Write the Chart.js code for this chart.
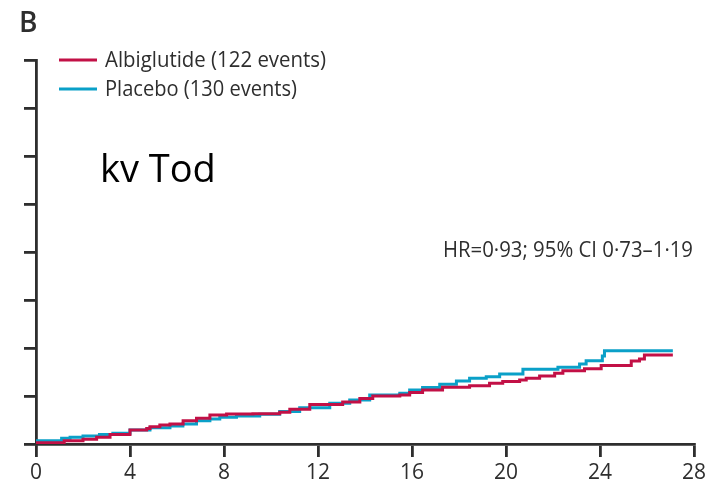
<!DOCTYPE html>
<html>
<head>
<meta charset="utf-8">
<script src="https://cdn.jsdelivr.net/npm/chart.js@4.4.1/dist/chart.umd.min.js"></script>
<style>
  html, body { margin: 0; padding: 0; background: #fff; }
  #wrap { width: 710px; height: 481px; }
</style>
</head>
<body>
<div id="wrap"><canvas id="km"></canvas></div>
<script>
// cumulative incidence (%) over months since randomisation
const albiMonths = [0, 1.2, 2.0, 2.58, 3.15, 4.0, 4.71, 4.85, 5.27, 5.7, 6.26, 6.83, 7.4, 8.11, 9.23, 10.37, 10.8, 11.65, 13.05, 13.78, 14.33, 15.48, 15.9, 16.45, 17.3, 18.45, 19.3, 19.86, 20.58, 20.86, 21.43, 22.07, 22.42, 23.34, 24.05, 25.33, 25.68, 25.89, 26.6, 27.1];
const albiRisk   = [0, 0.05, 0.14, 0.2, 0.28, 0.4, 0.58, 0.65, 0.72, 0.79, 0.83, 0.97, 1.07, 1.21, 1.25, 1.26, 1.32, 1.45, 1.65, 1.75, 1.9, 2.0, 2.04, 2.15, 2.25, 2.36, 2.43, 2.53, 2.6, 2.67, 2.74, 2.83, 2.95, 3.05, 3.14, 3.27, 3.46, 3.54, 3.71, 3.71];

const placMonths = [0, 1.09, 1.45, 2.0, 2.7, 3.27, 4.0, 4.85, 5.7, 6.25, 6.83, 7.4, 7.82, 8.53, 9.52, 10.37, 11.22, 12.5, 13.35, 14.2, 15.48, 15.9, 16.45, 17.18, 17.89, 18.45, 19.16, 19.73, 20.72, 22.21, 23.13, 23.41, 24.1, 24.19, 24.97, 27.1];
const placRisk   = [0, 0.14, 0.24, 0.28, 0.33, 0.4, 0.45, 0.58, 0.68, 0.75, 0.83, 0.97, 1.04, 1.11, 1.17, 1.24, 1.35, 1.51, 1.7, 1.83, 2.04, 2.11, 2.25, 2.35, 2.49, 2.63, 2.74, 2.8, 2.92, 3.11, 3.2, 3.33, 3.47, 3.67, 3.89, 3.89];

const seriesNames = ['Albiglutide (122 events)', 'Placebo (130 events)'];
const xTicks = [0, 4, 8, 12, 16, 20, 24, 28];

const RED = 'rgb(194,16,70)';
const BLUE = 'rgb(10,160,200)';
const INK = '#2e2e2e';

const pts = (xs, ys) => xs.map((x, i) => ({ x: x, y: ys[i] }));

// legend, panel letter and annotations
const annotate = {
  id: 'annotate',
  afterDraw(chart) {
    const c = chart.ctx;
    c.save();
    c.fillStyle = INK;
    c.textBaseline = 'alphabetic';
    c.font = '600 28px "Open Sans"';
    c.fillText('B', 19, 32);

    const rows = [[RED, 60], [BLUE, 89]];
    c.font = '21px "Open Sans"';
    rows.forEach(([col, y], i) => {
      c.strokeStyle = col;
      c.lineWidth = 2.8;
      c.beginPath();
      c.moveTo(59, y);
      c.lineTo(97, y);
      c.stroke();
      c.fillStyle = INK;
      c.fillText(seriesNames[i], 105, y + 7, i === 0 ? 221 : 192);
    });

    c.font = '22px "Open Sans"';
    c.fillText('HR=0·93; 95% CI 0·73–1·19', 443, 257, 250);

    c.fillStyle = '#000';
    c.font = '38px "Open Sans"';
    c.fillText('kv Tod', 100, 182);
    c.restore();
  }
};

new Chart(document.getElementById('km'), {
  type: 'line',
  data: {
    datasets: [
      { label: seriesNames[0], data: pts(albiMonths, albiRisk), borderColor: RED, borderWidth: 3, stepped: 'after', pointRadius: 0, fill: false },
      { label: seriesNames[1], data: pts(placMonths, placRisk), borderColor: BLUE, borderWidth: 3, stepped: 'after', pointRadius: 0, fill: false }
    ]
  },
  options: {
    responsive: true,
    maintainAspectRatio: false,
    animation: false,
    layout: { padding: { top: 60, right: 16, left: 0, bottom: 0 } },
    plugins: { legend: { display: false }, tooltip: { enabled: false } },
    scales: {
      x: {
        type: 'linear', min: 0, max: 28,
        afterBuildTicks: s => { s.ticks = xTicks.map(v => ({ value: v })); },
        ticks: { color: INK, padding: 3, font: { family: 'Open Sans', size: 21 } },
        grid: { drawOnChartArea: false, drawTicks: true, tickLength: 13, color: INK, lineWidth: 2.8 },
        border: { display: true, color: INK, width: 2.8 },
        afterFit: s => { s.height = 37; }
      },
      y: {
        min: 0, max: 16,
        ticks: { stepSize: 2, display: false },
        grid: { drawOnChartArea: false, drawTicks: true, tickLength: 12, color: INK, lineWidth: 2.8 },
        border: { display: true, color: INK, width: 2.8 },
        afterFit: s => { s.width = 36; }
      }
    }
  },
  plugins: [annotate]
});
</script>
</body>
</html>
